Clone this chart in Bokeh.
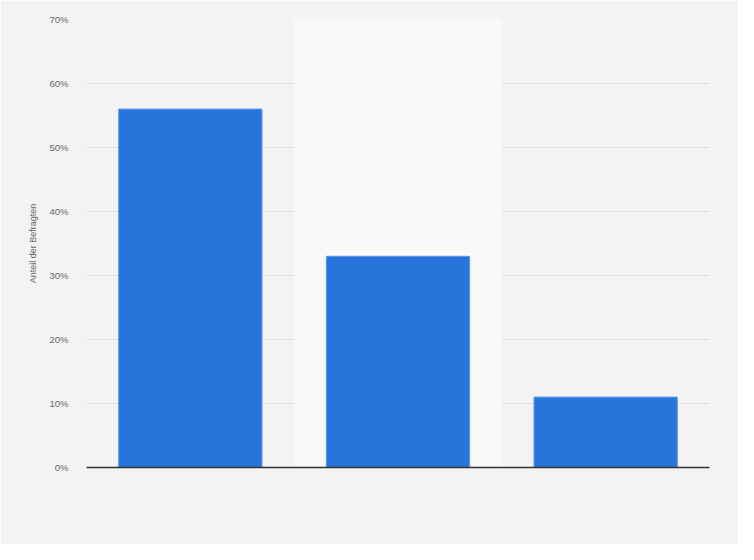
from bokeh.plotting import figure
from bokeh.models import BoxAnnotation, FixedTicker, ColumnDataSource
from bokeh.embed import file_html
from bokeh.resources import INLINE

# data
categories = ["Kategorie 1", "Kategorie 2", "Kategorie 3"]
values = [56, 33, 11]
y_ticks = [0, 10, 20, 30, 40, 50, 60, 70]
y_label = "Anteil der Befragten"

BG = "#f3f3f3"
xs = list(range(len(categories)))
src = ColumnDataSource(dict(x=xs, top=values, cat=categories))

p = figure(width=738, height=544, output_backend="svg", toolbar_location=None,
           x_range=(-0.5, len(categories) - 0.5), y_range=(0, 70),
           min_border_left=86, min_border_right=29, min_border_top=19, min_border_bottom=77)
p.background_fill_color = BG
p.border_fill_color = BG
p.outline_line_color = None

p.add_layout(BoxAnnotation(left=0.5, right=1.5, fill_color="#f9f9f9", fill_alpha=1,
                           line_color=None, level="underlay"))

p.vbar(x="x", top="top", bottom=0, width=0.69, source=src,
       fill_color="#2775db", line_color="#5d97e6", line_width=1)

p.yaxis.ticker = FixedTicker(ticks=y_ticks)
p.yaxis.major_label_overrides = {t: f"{t}%" for t in y_ticks}
p.yaxis.axis_line_color = None
p.yaxis.major_tick_line_color = None
p.yaxis.minor_tick_line_color = None
p.yaxis.major_label_text_font = "Liberation Sans"
p.yaxis.major_label_text_font_size = "9.5px"
p.yaxis.major_label_text_color = "#666666"
p.yaxis.major_label_standoff = 12
p.yaxis.axis_label = y_label
p.yaxis.axis_label_text_font = "Liberation Sans"
p.yaxis.axis_label_text_font_size = "9px"
p.yaxis.axis_label_text_font_style = "normal"
p.yaxis.axis_label_text_color = "#666666"
p.yaxis.axis_label_standoff = 8

p.xaxis.ticker = FixedTicker(ticks=[])
p.xaxis.axis_line_color = "#333333"
p.xaxis.axis_line_width = 1.5
p.xaxis.major_tick_line_color = None
p.xaxis.minor_tick_line_color = None

p.xgrid.grid_line_color = None
p.ygrid.grid_line_color = "#cfcfcf"
p.ygrid.grid_line_dash = "1 1"
p.ygrid.grid_line_width = 1

html = file_html(p, INLINE)
html = html.replace("<body>", '<body style="background:#f3f3f3">', 1)
open("out.html", "w").write(html)
